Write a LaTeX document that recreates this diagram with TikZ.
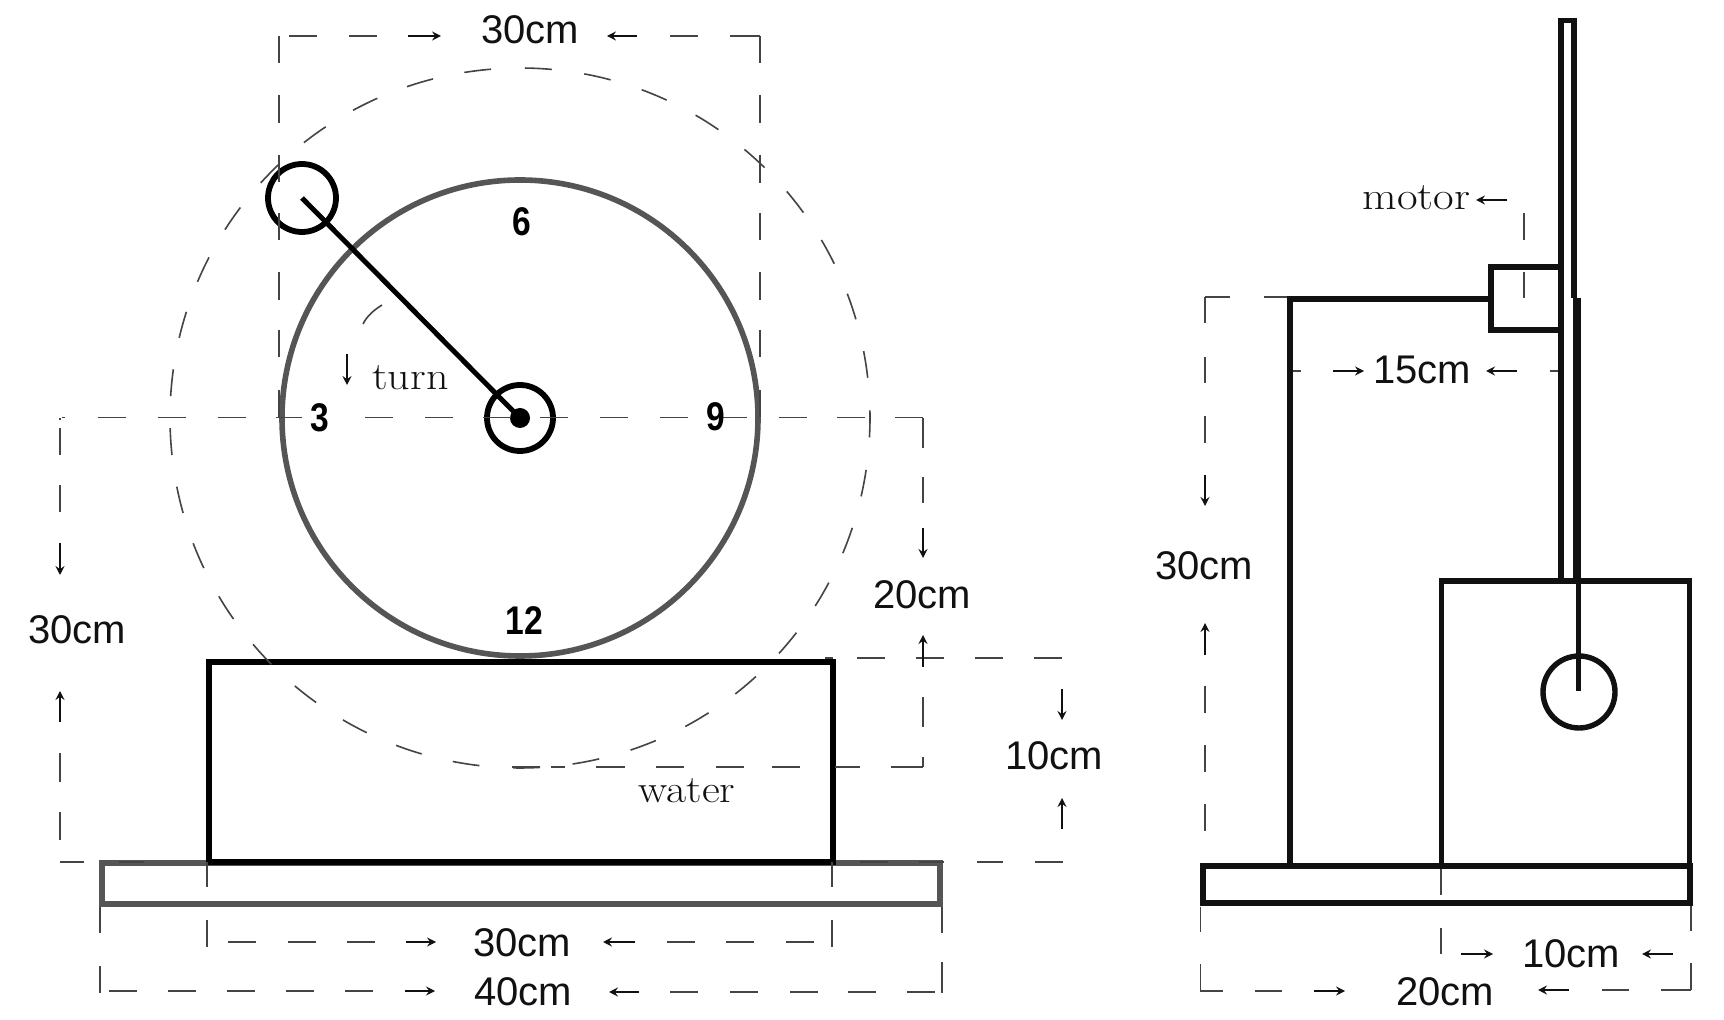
\documentclass[tikz,border=0pt]{standalone}
\usepackage{fontspec}
\setsansfont{Liberation Sans}
\usetikzlibrary{arrows.meta}
\definecolor{ink}{HTML}{111111}
\definecolor{wheelgray}{HTML}{555555}
\definecolor{dimgray}{HTML}{444444}
\tikzset{
  x=0.5pt,y=-0.5pt,
  heavy/.style={draw=black,line width=2.9pt},
  frame/.style={draw=ink,line width=2.7pt},
  graybox/.style={draw=wheelgray,line width=2.7pt},
  dimseg/.style={draw=dimgray,line width=0.8pt},
  dimarrow/.style={draw=ink,line width=0.6pt,-{Stealth[length=4.5pt,width=4.5pt,inset=1.6pt]}},
  sizelabel/.style={inner sep=0pt,text=ink,font=\sffamily\fontsize{20}{24}\selectfont},
  numlabel/.style={inner sep=0pt,text=black,font=\sffamily\bfseries\fontsize{20}{24}\selectfont},
  namelabel/.style={inner sep=0pt,text=ink,font=\rmfamily\fontsize{19.5}{23}\selectfont},
}
\begin{document}
\begin{tikzpicture}
\useasboundingbox (0,0) rectangle (1724,1020);
\fill[white] (0,0) rectangle (1724,1020);
\coordinate (hub) at (520,418);
\coordinate (crank) at (302,198);
% left: base and tank
\draw[graybox] (102,863) rectangle (940,904);
\draw[heavy] (209,662) rectangle (833,862);
% wheel
\draw[draw=wheelgray,line width=2.8pt] (hub) circle[radius=238];
\draw[heavy] (crank) circle[radius=34];
\draw[heavy] (hub) circle[radius=33];
\fill[black] (hub) circle[radius=10];
\draw[draw=black,line width=2.5pt] (crank) -- (hub);
% big dashed circle, in two halves from the top
\draw[dimseg,dash pattern=on 13.5pt off 16.35pt] (hub) ++(-89.2:350) arc[start angle=-89.2,end angle=91.4,radius=350];
\draw[dimseg,dash pattern=on 13.5pt off 16pt] (hub) ++(-94.74:350) arc[start angle=-94.74,end angle=-263.5,radius=350];
% dashed horizontal segments
\foreach \y/\list in {
  417.5/{62/65,98/126,158/186,218/246,276/302,365/393,425/453,483/511,540/568,600/628,660/688,719/747,779/807,837/865,895/923},
  36/{289/317,349/377,670/698,730/760},
  767/{512/540,551/565,596/625,656/684,716/744,772/800,835/860,891/923},
  658/{825/833,857/885,916/944,975/1003,1034/1062},
  862/{60/84,119/144,860/888,919/944,977/1003,1035/1063},
  942/{228/256,288/316,347/375,667/695,726/754,786/814},
  991/{109/137,168/196,227/255,286/314,345/373},
  992/{670/698,730/758,790/818,848/876,907/935},
  371/{1291/1301,1550/1559},
  297/{1205/1230,1264/1290},
  991.2/{1200/1223,1255/1282},
  990/{1602/1629,1661/1691}}
  {\foreach \a/\b in \list {\draw[dimseg] (\a,\y) -- (\b,\y);}}
% dashed vertical segments
\foreach \x/\list in {
  279/{36/63,95/123,155/182,213/240,272/300,330/357,390/417},
  760/{36/63,95/123,155/183,213/240,272/300,330/357,390/417},
  60/{418/420,428/455,485/512,753/782,812/840},
  923/{418/448,477/503,697/727,757/767},
  207/{862/887,920/947},
  832/{862/887,920/947},
  100/{907/933,966/993},
  942/{907/933,962/993},
  1524/{213/240,272/298},
  1205/{297/323,357/383,416/443,686/713,745/772,804/831},
  1441/{868/895,928/954},
  1200.5/{907/932,964/992},
  1691/{905/931,963/990}}
  {\foreach \a/\b in \list {\draw[dimseg] (\x,\a) -- (\x,\b);}}
% dimension arrows
\foreach \ax/\ay/\bx/\by in {
  408/36/441/36, 637/36/607/36,
  60/543/60/575, 60/722/60/691,
  923/528/923/558, 923/667/923/635,
  1062/689/1062/720, 1062/829/1062/798,
  406/942/436/942, 635/942/603/942,
  405/991/435/991, 639/992/609/992,
  347/354/347/385,
  1507/200/1476/200, 1333/371/1364/371, 1517/371/1486/371,
  1205/475/1205/506, 1205/655/1205/623,
  1461/954/1493/954, 1673/954/1642/954,
  1314/991/1345/991, 1569/990/1538/990}
  {\draw[dimarrow] (\ax,\ay) -- (\bx,\by);}
\draw[dimseg] (382,305) .. controls (374,310) and (367,316) .. (363,324);
% right view
\draw[frame] (1203,866) rectangle (1690,903);
\draw[frame] (1441.6,866) -- (1441.6,581) -- (1689.6,581) -- (1689.6,866);
\draw[frame] (1290,866) -- (1290,299) -- (1491,299);
\draw[frame] (1491,267) rectangle (1561,330);
\draw[frame] (1561,579) -- (1561,20.7) -- (1574,20.7) -- (1574,298);
\draw[draw=ink,line width=3.8pt] (1577,298) -- (1577,581);
\draw[frame] (1578.6,581) -- (1578.6,691);
\draw[frame] (1579,692) circle[radius=36];
% labels
\node[sizelabel] (top) at (530,30) {30cm};
\node[sizelabel] (leftdim) at (77,630) {30cm};
\node[sizelabel] (rightdim) at (922,595) {20cm};
\node[sizelabel] (waterdim) at (1054,756) {10cm};
\node[sizelabel] (tankdim) at (522,943) {30cm};
\node[sizelabel] (basedim) at (523,992) {40cm};
\node[sizelabel] (armdim) at (1422,370) {15cm};
\node[sizelabel] (heightdim) at (1204,566) {30cm};
\node[sizelabel] (tankdepth) at (1571,954) {10cm};
\node[sizelabel] (basedepth) at (1445,992) {20cm};
\node[numlabel] (n3) at (320,418) {\scalebox{0.84}[1]{3}};
\node[numlabel] (n6) at (522,222) {\scalebox{0.84}[1]{6}};
\node[numlabel] (n9) at (716,417) {\scalebox{0.84}[1]{9}};
\node[numlabel] (n12) at (524,621) {\scalebox{0.84}[1]{12}};
\node[namelabel] (turn) at (410.5,378) {\scalebox{1.13}[1]{turn}};
\node[namelabel] (water) at (687,791) {\scalebox{1.12}[1]{water}};
\node[namelabel] (motor) at (1416.5,198) {\scalebox{1.15}[1]{motor}};
\end{tikzpicture}
\end{document}
